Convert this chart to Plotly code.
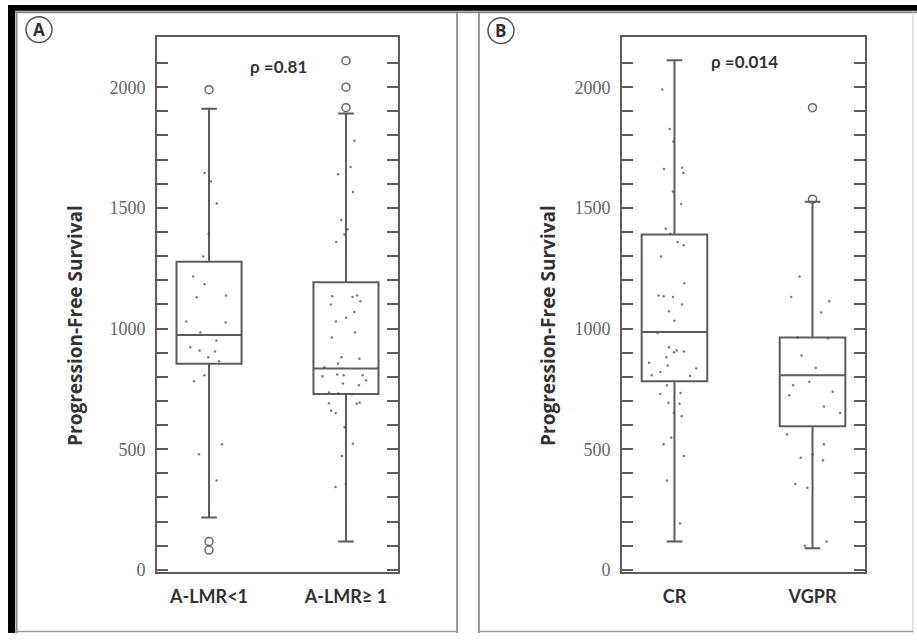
import plotly.graph_objects as go

W, H = 917, 641

# ---------------- Panel A: PFS by A-LMR group ----------------
A_CATEGORIES = ["A-LMR<1", "A-LMR≥ 1"]
A_Q1 = [854, 729]
A_MEDIAN = [973, 834]
A_Q3 = [1277, 1192]
A_LOWER = [217, 117]
A_UPPER = [1911, 1891]
A_POINTS_LOW = [1645, 1610, 1518, 1393, 1298, 1216, 1184, 1137, 1130, 1029, 1025,
                984, 950, 922, 909, 905, 881, 864, 806, 782, 520, 479, 370]
A_POINTS_HIGH = [1778, 1669, 1639, 1566, 1450, 1411, 1390, 1359, 1137, 1134, 1131,
                 1113, 1100, 1068, 1045, 1029, 984, 963, 881, 875, 854, 840, 810,
                 806, 806, 802, 786, 772, 765, 735, 731, 728, 692, 690, 688, 659,
                 650, 591, 523, 472, 356, 343]
A_OUTLIERS_LOW = [1990, 117, 82]
A_OUTLIERS_HIGH = [2110, 2000, 1915]
A_P_LABEL = "ρ =0.81"

# ---------------- Panel B: PFS by response ----------------
B_CATEGORIES = ["CR", "VGPR"]
B_Q1 = [782, 595]
B_MEDIAN = [986, 806]
B_Q3 = [1390, 963]
B_LOWER = [117, 90]
B_UPPER = [2112, 1525]
B_POINTS_CR = [1991, 1827, 1775, 1666, 1661, 1645, 1568, 1516, 1413, 1393, 1359,
               1345, 1298, 1188, 1137, 1134, 1131, 1100, 1072, 1032, 981, 922, 909,
               905, 902, 881, 858, 847, 834, 820, 806, 803, 765, 733, 729, 692, 688,
               650, 636, 547, 520, 472, 370, 192]
B_POINTS_VGPR = [1216, 1131, 1113, 1066, 963, 960, 888, 836, 779, 765, 738, 724,
                 677, 650, 561, 520, 479, 465, 454, 356, 340, 117, 100]
B_OUTLIERS_VGPR = [1915, 1536]
B_P_LABEL = "ρ =0.014"

Y_TICK_VALUES = list(range(0, 2200, 100))
Y_TICK_LABELS = [str(v) if v % 500 == 0 else "" for v in Y_TICK_VALUES]
Y_TITLE = "Progression-Free Survival"
PANEL_LETTERS = ["A", "B"]

LINE = "#5c5c5c"
DOT = "rgba(70,70,70,0.7)"


def px_x(p):
    return p / W


def px_y(p):
    return 1 - p / H


fig = go.Figure()


def add_panel(cats, q1, med, q3, lo, hi, points, outliers, xa, ya):
    fig.add_trace(go.Box(
        x=cats, q1=q1, median=med, q3=q3, lowerfence=lo, upperfence=hi,
        y=points, boxpoints="all", jitter=0.9, pointpos=0,
        marker=dict(size=2.5, color=DOT),
        line=dict(color=LINE, width=2),
        fillcolor="rgba(0,0,0,0)", whiskerwidth=0.24, width=0.475,
        xaxis=xa, yaxis=ya, showlegend=False, hoverinfo="skip",
    ))
    for cat, vals in zip(cats, outliers):
        if not vals:
            continue
        fig.add_trace(go.Scatter(
            x=[cat] * len(vals), y=vals, mode="markers",
            marker=dict(symbol="circle-open", size=8, color="#6a6a6a",
                        line=dict(width=1.5, color="#6a6a6a")),
            xaxis=xa, yaxis=ya, showlegend=False, hoverinfo="skip",
        ))


add_panel(A_CATEGORIES, A_Q1, A_MEDIAN, A_Q3, A_LOWER, A_UPPER,
          [A_POINTS_LOW, A_POINTS_HIGH], [A_OUTLIERS_LOW, A_OUTLIERS_HIGH], "x", "y")
add_panel(B_CATEGORIES, B_Q1, B_MEDIAN, B_Q3, B_LOWER, B_UPPER,
          [B_POINTS_CR, B_POINTS_VGPR], [[], B_OUTLIERS_VGPR], "x2", "y2")

ydom = [px_y(579), px_y(37)]
yaxis_common = dict(
    range=[-8, 2210], domain=ydom, tickmode="array",
    tickvals=Y_TICK_VALUES, ticktext=Y_TICK_LABELS,
    ticks="inside", ticklen=11, tickwidth=2, tickcolor=LINE,
    showline=True, linecolor=LINE, linewidth=2, mirror="ticks",
    showgrid=False, zeroline=False, ticklabelstandoff=6,
    tickfont=dict(family="Liberation Serif", size=18, color="#666666"),
)
xaxis_common = dict(
    type="category", range=[-0.38, 1.38],
    showline=True, linecolor=LINE, linewidth=2, mirror=True,
    ticks="", showgrid=False, zeroline=False, ticklabelstandoff=8,
    tickfont=dict(family="Lato", size=18, color="#333333", weight="bold"),
)

fig.update_layout(
    width=W, height=H, margin=dict(l=0, r=0, t=0, b=0),
    paper_bgcolor="white", plot_bgcolor="white",
    xaxis=dict(domain=[px_x(157), px_x(398)], anchor="y", **xaxis_common),
    yaxis=dict(anchor="x", **yaxis_common),
    xaxis2=dict(domain=[px_x(622), px_x(865)], anchor="y2", **xaxis_common),
    yaxis2=dict(anchor="x2", **yaxis_common),
)

P = dict(xref="paper", yref="paper")
# frame of the figure: dark band top and left, panel borders
shapes = [
    dict(type="rect", x0=px_x(8), x1=1, y0=px_y(11), y1=px_y(5),
         fillcolor="black", line_width=0, **P),
    dict(type="rect", x0=px_x(8), x1=px_x(15), y0=0, y1=px_y(5),
         fillcolor="black", line_width=0, **P),
    dict(type="line", x0=px_x(15), x1=1, y0=px_y(12.5), y1=px_y(12.5),
         line=dict(color="#8a8a8a", width=2), **P),
    dict(type="line", x0=px_x(16.5), x1=px_x(16.5), y0=0, y1=px_y(12),
         line=dict(color="#8a8a8a", width=2), **P),
    dict(type="line", x0=px_x(457), x1=px_x(457), y0=0, y1=px_y(12),
         line=dict(color="#7a7a7a", width=1.5), **P),
    dict(type="line", x0=px_x(479), x1=px_x(479), y0=0, y1=px_y(12),
         line=dict(color="#7a7a7a", width=1.5), **P),
    dict(type="line", x0=px_x(913), x1=px_x(913), y0=0, y1=px_y(12),
         line=dict(color="#d0d0d0", width=1), **P),
    dict(type="line", x0=px_x(15), x1=px_x(457), y0=px_y(639.5), y1=px_y(639.5),
         line=dict(color="#9a9a9a", width=1.5), **P),
    dict(type="line", x0=px_x(479), x1=px_x(913), y0=px_y(639.5), y1=px_y(639.5),
         line=dict(color="#9a9a9a", width=1.5), **P),
]
# circled panel letters
LETTER_POS = [(39, 30), (501, 31)]
for cx, cy in LETTER_POS:
    shapes.append(dict(type="circle", x0=px_x(cx - 13), x1=px_x(cx + 13),
                       y0=px_y(cy + 13), y1=px_y(cy - 13),
                       line=dict(color="#555555", width=1.5), **P))
fig.update_layout(shapes=shapes)

A = dict(xref="paper", yref="paper", showarrow=False, xanchor="center", yanchor="middle")
annotations = []
for letter, (cx, cy) in zip(PANEL_LETTERS, LETTER_POS):
    annotations.append(dict(text=f"<b>{letter}</b>", x=px_x(cx), y=px_y(cy),
                            font=dict(family="Open Sans", size=17, color="#333333"), **A))
for label, cx, cy in [(A_P_LABEL, 278, 67), (B_P_LABEL, 744, 62)]:
    annotations.append(dict(text=f"<b>{label}</b>", x=px_x(cx), y=px_y(cy),
                            font=dict(family="Lato", size=17, color="#333333"), **A))
for cx in [75, 548]:
    annotations.append(dict(text=f"<b>{Y_TITLE}</b>", x=px_x(cx), y=px_y(330),
                            textangle=-90,
                            font=dict(family="Open Sans", size=19, color="#333333"), **A))
fig.update_layout(annotations=annotations)

fig.write_html("out.html")
